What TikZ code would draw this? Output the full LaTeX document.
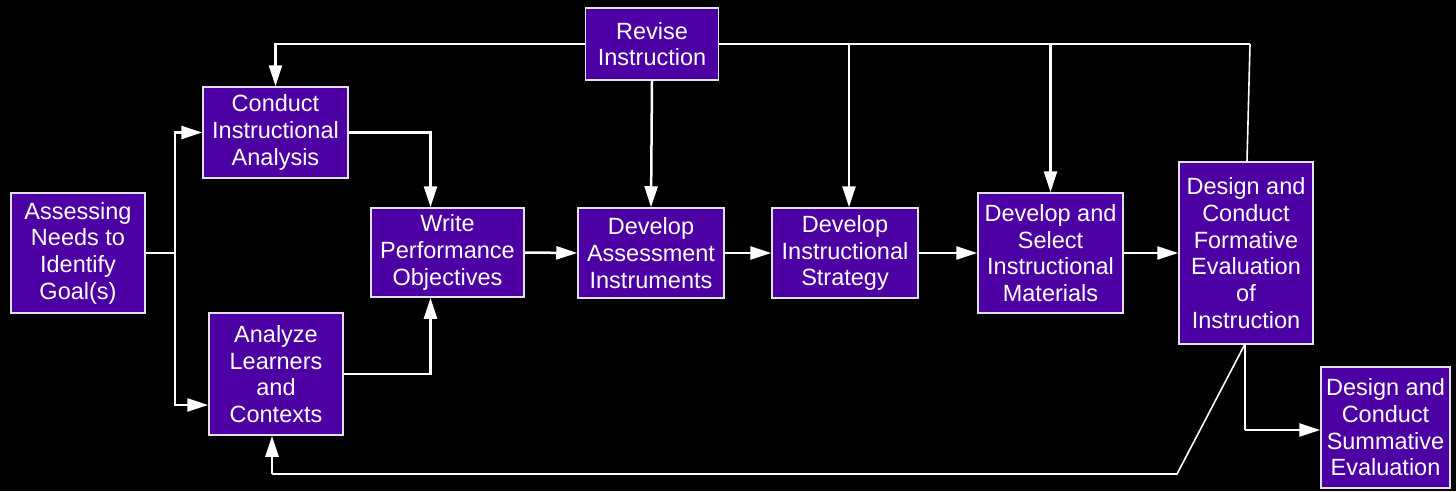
\documentclass[tikz,border=0pt]{standalone}
\usepackage{fontspec}
\setmainfont{Liberation Sans}
\usetikzlibrary{arrows.meta}
\definecolor{boxfill}{RGB}{76,0,164}
\definecolor{boxedge}{RGB}{225,225,235}
\tikzset{
  box/.style={draw=boxedge, line width=1.5pt, fill=boxfill, text=white, align=center,
    inner sep=0pt, font=\fontsize{23.5}{26.7}\selectfont},
  conn/.style={draw=white, line width=2.5pt},
  thin/.style={draw=white, line width=1.6pt},
  arr/.style={conn, -{Triangle[length=21pt,width=13pt]}},
}
\begin{document}
\begin{tikzpicture}[x=1pt,y=-1pt]
\fill[black] (0,0) rectangle (1456,491);
\useasboundingbox (0,0) rectangle (1456,491);

\node[box, minimum width=133pt, minimum height=72pt] (revise) at (652,44) {Revise\\Instruction};
\node[box, minimum width=145pt, minimum height=91pt] (conduct) at (275.5,132.5) {Conduct\\Instructional\\Analysis};
\node[box, minimum width=134pt, minimum height=120pt] (assess) at (78,253) {Assessing\\Needs to\\Identify\\Goal(s)};
\node[box, minimum width=134pt, minimum height=122pt] (analyze) at (276,374) {Analyze\\Learners\\and\\Contexts};
\node[box, minimum width=153pt, minimum height=89pt] (write) at (447.5,252.5) {Write\\Performance\\Objectives};
\node[box, minimum width=146pt, minimum height=90pt] (assessment) at (651,253) {Develop\\Assessment\\Instruments};
\node[box, minimum width=146pt, minimum height=90pt] (strategy) at (845,253) {Develop\\Instructional\\Strategy};
\node[box, minimum width=145pt, minimum height=120pt] (select) at (1050.5,253) {Develop and\\Select\\Instructional\\Materials};
\node[box, minimum width=134pt, minimum height=182pt] (formative) at (1246,253) {Design and\\Conduct\\Formative\\Evaluation\\of\\Instruction};
\node[box, minimum width=129pt, minimum height=121pt] (summative) at (1385.5,427.5) {Design and\\Conduct\\Summative\\Evaluation};

% needs assessment split
\coordinate (sp) at (175,253);
\draw[conn] (assess.east) -- (sp);
\draw[arr] (sp) |- (conduct.west);
\draw[arr] (sp) |- ([yshift=-31pt]analyze.west);

% into write objectives
\draw[arr] (conduct.east) -| ([xshift=-17pt]write.north);
\draw[arr] (analyze.east) -| ([xshift=-17pt]write.south);

% main chain
\draw[arr] (write.east) -- (assessment.west);
\draw[arr] (assessment.east) -- (strategy.west);
\draw[arr] (strategy.east) -- (select.west);
\draw[arr] (select.east) -- (formative.west);

% revise instruction feedback
\coordinate (tr) at (1250,44);
\coordinate (b1) at (849,44);
\coordinate (b2) at (1050.5,44);
\draw[arr] (revise.west) -| (conduct.north);
\draw[conn] (revise.east) -- (tr);
\draw[thin] (tr) -- ([xshift=1pt]formative.north);
\draw[arr] (revise.south) -- (assessment.north);
\draw[arr] (b1) -- (b1 |- strategy.north);
\draw[arr] (b2) -- (select.north);

% formative to summative
\coordinate (fb) at (1245,344);
\draw[conn] (fb) -- (1245,430) coordinate (fc);
\draw[arr] (fc) -- (fc -| summative.west);

% return loop to learners
\coordinate (rd) at (1177,474);
\coordinate (rl) at (272,474);
\draw[thin] (fb) -- (rd) -- (rl);
\draw[arr] (rl) -- (rl |- analyze.south);
\end{tikzpicture}
\end{document}
